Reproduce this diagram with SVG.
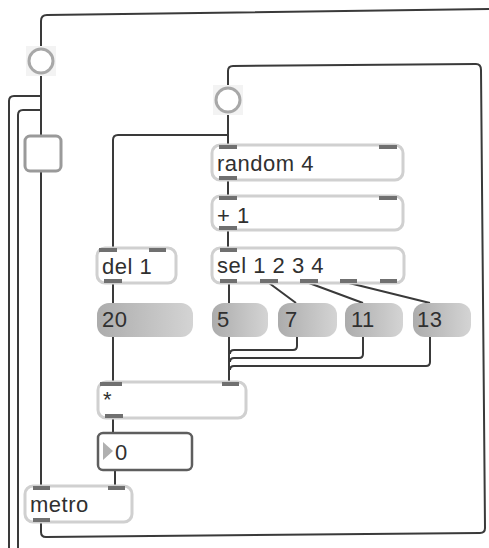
<svg xmlns="http://www.w3.org/2000/svg" width="489" height="548" viewBox="0 0 489 548">
<defs>
<linearGradient id="msg" x1="0" y1="0" x2="1" y2="0">
<stop offset="0" stop-color="#acacac"/>
<stop offset="1" stop-color="#d4d4d4"/>
</linearGradient>
<style>
.wire{fill:none;stroke:#3a3a3a;stroke-width:2;stroke-linejoin:round}
.box{fill:#fff;stroke:#d0d0d0;stroke-width:3}
.msg{fill:url(#msg)}
.port{fill:#707070}
.circ{fill:#fff;stroke:#a8a8a8;stroke-width:3}
.t{font-family:"Liberation Sans",Arial,sans-serif;font-size:22px;fill:#303030;letter-spacing:0.5px}
</style>
</defs>
<rect width="489" height="548" fill="#fff"/>
<g id="connectors">
<path class="wire" d="M41,49 V21 Q41,15 47,15 L489,9"/>
<path class="wire" d="M41,73 V136 M41,171 V486"/>
<path class="wire" d="M41,96 H14 Q9,96 9,101 V548"/>
<path class="wire" d="M41,110 H23 Q18,110 18,115 V548"/>
<path class="wire" d="M41,522 V532 Q41,537 46,537 L480,533 Q485,533 485,528 L481,70 Q481,64 476,64 L233,66 Q228,66 228,71 V88"/>
<path class="wire" d="M228,112 V145"/>
<path class="wire" d="M228,135 H118 Q113,135 113,140 V248"/>
<path class="wire" d="M228,180 V196 M228,230 V248"/>
<path class="wire" d="M229,283 V303"/>
<path class="wire" d="M269,283 L296,303 M309,283 L363,303 M349,283 L430,303"/>
<path class="wire" d="M113,283 V303 M113,337 V382"/>
<path class="wire" d="M229,337 V382"/>
<path class="wire" d="M297,337 V346 Q297,350 293,350 H234 Q230,350 230,354"/>
<path class="wire" d="M363,337 V354 Q363,358 359,358 H234 Q230,358 230,362"/>
<path class="wire" d="M430,337 V362 Q430,366 426,366 H234 Q230,366 230,370"/>
<path class="wire" d="M113,418 V433 M115,470 V486"/>
</g>
<g id="button1">
<rect x="26" y="46" width="30" height="30" fill="#f3f3f3"/>
<circle class="circ" cx="41" cy="61" r="12"/>
</g>
<g id="button2">
<rect x="213" y="85" width="30" height="30" fill="#f3f3f3"/>
<circle class="circ" cx="228" cy="100" r="12"/>
</g>
<g id="toggle">
<rect x="25" y="136" width="36" height="35" rx="5" fill="#fff" stroke="#9a9a9a" stroke-width="3"/>
</g>
<g id="random">
<rect class="box" x="212" y="145" width="191" height="35" rx="8"/>
<rect class="port" x="219" y="145" width="18" height="4"/>
<rect class="port" x="379" y="145" width="18" height="4"/>
<rect class="port" x="219" y="176" width="18" height="4"/>
<text class="t" x="217" y="171">random 4</text>
</g>
<g id="plus1">
<rect class="box" x="212" y="196" width="191" height="34" rx="8"/>
<rect class="port" x="219" y="196" width="18" height="4"/>
<rect class="port" x="379" y="196" width="18" height="4"/>
<rect class="port" x="219" y="226" width="18" height="4"/>
<text class="t" x="217" y="223">+ 1</text>
</g>
<g id="sel">
<rect class="box" x="212" y="248" width="192" height="35" rx="8"/>
<rect class="port" x="220" y="248" width="17" height="4"/>
<rect class="port" x="220" y="279" width="17" height="4"/>
<rect class="port" x="260" y="279" width="18" height="4"/>
<rect class="port" x="300" y="279" width="18" height="4"/>
<rect class="port" x="340" y="279" width="17" height="4"/>
<rect class="port" x="380" y="279" width="17" height="4"/>
<text class="t" x="217" y="273">sel 1 2 3 4</text>
</g>
<g id="del1">
<rect class="box" x="97" y="248" width="79" height="35" rx="8"/>
<rect class="port" x="99" y="248" width="18" height="4"/>
<rect class="port" x="149" y="248" width="17" height="4"/>
<rect class="port" x="104" y="279" width="18" height="4"/>
<text class="t" x="102" y="274">del 1</text>
</g>
<g id="msg20">
<rect class="msg" x="97" y="303" width="96" height="34" rx="12"/>
<text class="t" x="102" y="327">20</text>
</g>
<g id="msg5">
<rect class="msg" x="212" y="303" width="56" height="34" rx="12"/>
<text class="t" x="217" y="327">5</text>
</g>
<g id="msg7">
<rect class="msg" x="278" y="303" width="59" height="34" rx="12"/>
<text class="t" x="285" y="327">7</text>
</g>
<g id="msg11">
<rect class="msg" x="345" y="303" width="58" height="34" rx="12"/>
<text class="t" x="351" y="327">11</text>
</g>
<g id="msg13">
<rect class="msg" x="413" y="303" width="58" height="34" rx="12"/>
<text class="t" x="417" y="327">13</text>
</g>
<g id="times">
<rect class="box" x="98" y="382" width="148" height="36" rx="8"/>
<rect class="port" x="100" y="382" width="22" height="4"/>
<rect class="port" x="222" y="382" width="17" height="4"/>
<rect class="port" x="105" y="414" width="18" height="4"/>
<text class="t" x="103" y="407">*</text>
</g>
<g id="number0">
<rect x="98" y="433" width="94" height="37" rx="5" fill="#fff" stroke="#5e5e5e" stroke-width="2.5"/>
<polygon points="103,442 103,460 113,451" fill="#b0b0b0"/>
<text class="t" x="115" y="460">0</text>
</g>
<g id="metro">
<rect class="box" x="25" y="486" width="107" height="36" rx="8"/>
<rect class="port" x="33" y="486" width="17" height="4"/>
<rect class="port" x="108" y="486" width="17" height="4"/>
<rect class="port" x="33" y="518" width="17" height="4"/>
<text class="t" x="30" y="512">metro</text>
</g>
</svg>
